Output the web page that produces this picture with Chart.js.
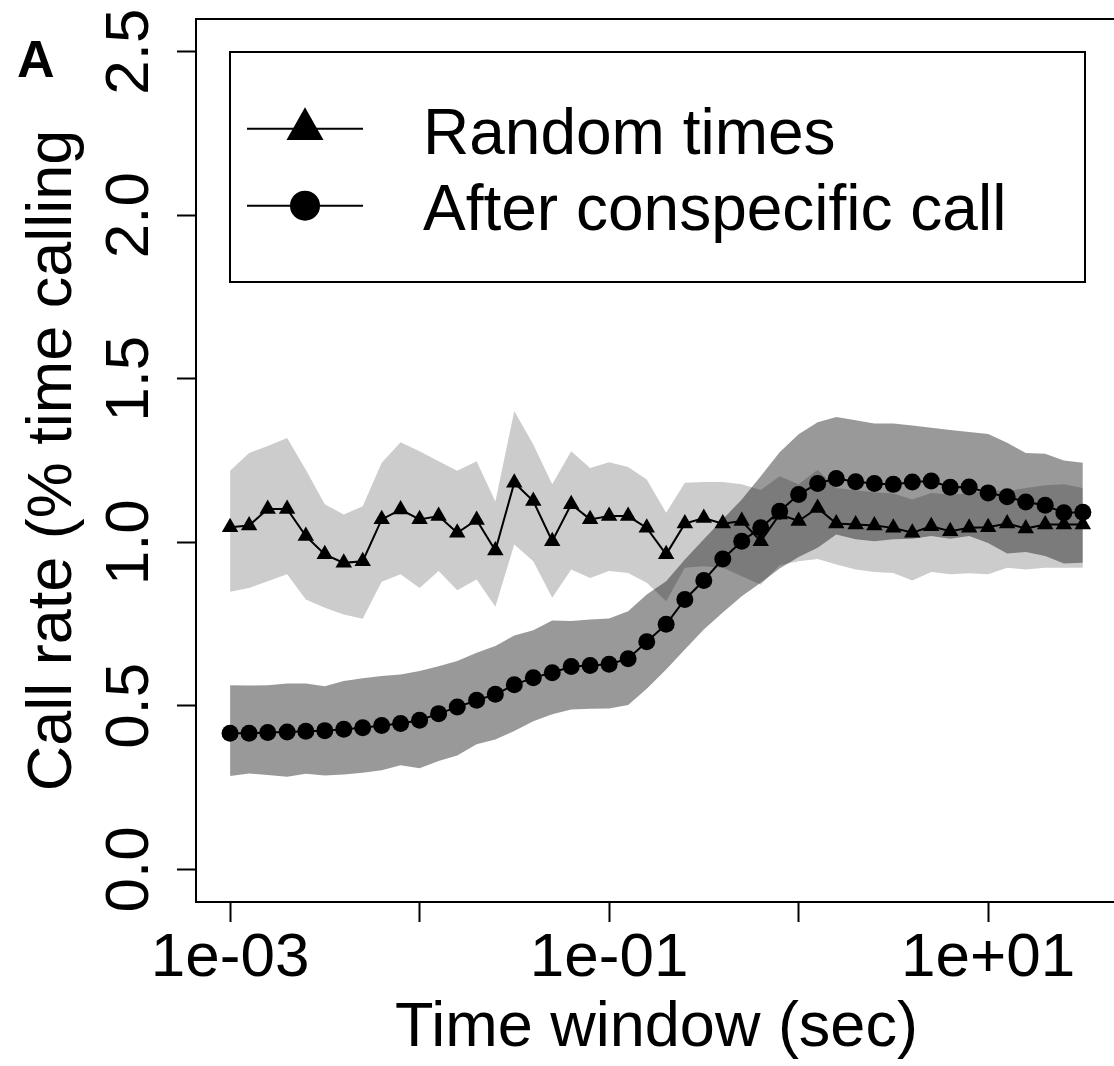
<!DOCTYPE html>
<html>
<head>
<meta charset="utf-8">
<script src="https://cdn.jsdelivr.net/npm/chart.js@4/dist/chart.umd.min.js"></script>
<style>
  html, body { margin: 0; padding: 0; background: #fff; overflow: hidden; }
  #wrap { position: relative; width: 1130px; height: 1066px; font-family: 'Liberation Sans', Arial, sans-serif; }
  #chart { display: block; }
  #panel { position: absolute; left: 17px; top: 33px; font-weight: bold; font-size: 52px; line-height: 52px; }
  #legend { position: absolute; left: 229px; top: 51px; width: 857px; height: 232px; border: 2px solid #000; box-sizing: border-box; background: #fff; }
  .leg-text { position: absolute; left: 423px; font-size: 64px; line-height: 64px; white-space: nowrap; }
  #legsym { position: absolute; left: 240px; top: 100px; }
</style>
</head>
<body>
<div id="wrap">
  <canvas id="chart" width="1130" height="1066"></canvas>
  <div id="panel">A</div>
  <div id="legend"></div>
  <svg id="legsym" width="130" height="130">
    <line x1="7" y1="28.7" x2="123" y2="28.7" stroke="#000" stroke-width="2"/>
    <polygon points="65,7.3 46.5,40 83.5,40" fill="#000"/>
    <line x1="7" y1="105.7" x2="123" y2="105.7" stroke="#000" stroke-width="2"/>
    <circle cx="65" cy="105.7" r="15" fill="#000"/>
  </svg>
  <div class="leg-text" style="top:100px">Random times</div>
  <div class="leg-text" style="top:176px">After conspecific call</div>
</div>
<script>
// time windows (sec), 10 per decade
const timeWindow = [
  0.001, 0.00126, 0.00158, 0.002, 0.00251, 0.00316, 0.00398, 0.00501, 0.00631, 0.00794,
  0.01, 0.0126, 0.0158, 0.02, 0.0251, 0.0316, 0.0398, 0.0501, 0.0631, 0.0794,
  0.1, 0.126, 0.158, 0.2, 0.251, 0.316, 0.398, 0.501, 0.631, 0.794,
  1, 1.26, 1.58, 2, 2.51, 3.16, 3.98, 5.01, 6.31, 7.94,
  10, 12.6, 15.8, 20, 25.1, 31.6
];

// random times
const randomMean = [
  1.046, 1.051, 1.102, 1.102, 1.019, 0.963, 0.937, 0.942, 1.070, 1.100,
  1.070, 1.080, 1.029, 1.068, 0.975, 1.182, 1.126, 1.003, 1.116, 1.070,
  1.080, 1.080, 1.044, 0.963, 1.057, 1.074, 1.057, 1.065, 1.003, 1.085,
  1.065, 1.105, 1.057, 1.054, 1.051, 1.044, 1.029, 1.049, 1.034, 1.044,
  1.046, 1.057, 1.042, 1.054, 1.054, 1.054
];
const randomUpper = [
  1.219, 1.273, 1.294, 1.319, 1.222, 1.116, 1.085, 1.110, 1.243, 1.306,
  1.278, 1.248, 1.219, 1.248, 1.125, 1.401, 1.299, 1.177, 1.278, 1.227,
  1.245, 1.230, 1.192, 1.090, 1.182, 1.184, 1.184, 1.177, 1.160, 1.202,
  1.177, 1.222, 1.166, 1.159, 1.153, 1.149, 1.131, 1.151, 1.146, 1.149,
  1.161, 1.156, 1.166, 1.174, 1.177, 1.166
];
const randomLower = [
  0.849, 0.860, 0.881, 0.902, 0.825, 0.800, 0.779, 0.766, 0.879, 0.902,
  0.860, 0.912, 0.853, 0.886, 0.803, 0.993, 0.942, 0.830, 0.917, 0.891,
  0.912, 0.906, 0.876, 0.820, 0.922, 0.927, 0.922, 0.896, 0.870, 0.930,
  0.942, 0.949, 0.932, 0.917, 0.909, 0.906, 0.883, 0.909, 0.902, 0.905,
  0.902, 0.922, 0.917, 0.922, 0.922, 0.922
];

// after conspecific call
const conspMean = [
  0.416, 0.416, 0.418, 0.420, 0.422, 0.424, 0.428, 0.433, 0.440, 0.446,
  0.456, 0.476, 0.496, 0.517, 0.535, 0.564, 0.586, 0.601, 0.620, 0.623,
  0.627, 0.644, 0.696, 0.749, 0.825, 0.883, 0.949, 1.003, 1.044, 1.095,
  1.146, 1.180, 1.195, 1.185, 1.180, 1.177, 1.184, 1.187, 1.168, 1.169,
  1.151, 1.139, 1.123, 1.113, 1.090, 1.092
];
const conspUpper = [
  0.563, 0.562, 0.563, 0.568, 0.568, 0.560, 0.576, 0.584, 0.591, 0.596,
  0.606, 0.621, 0.637, 0.662, 0.683, 0.715, 0.731, 0.761, 0.759, 0.764,
  0.767, 0.789, 0.840, 0.881, 0.947, 1.009, 1.070, 1.131, 1.202, 1.275,
  1.330, 1.367, 1.383, 1.373, 1.363, 1.363, 1.357, 1.350, 1.343, 1.337,
  1.331, 1.304, 1.273, 1.271, 1.250, 1.243
];
const conspLower = [
  0.285, 0.293, 0.288, 0.283, 0.292, 0.287, 0.290, 0.295, 0.303, 0.318,
  0.309, 0.331, 0.348, 0.382, 0.397, 0.423, 0.453, 0.474, 0.489, 0.491,
  0.492, 0.502, 0.552, 0.611, 0.672, 0.733, 0.785, 0.835, 0.876, 0.920,
  0.955, 0.983, 1.024, 1.009, 1.003, 1.009, 1.011, 1.019, 1.011, 1.019,
  0.998, 0.966, 0.970, 0.958, 0.935, 0.937
];

const xTickValues = [0.001, 0.01, 0.1, 1, 10];
const xTickLabels = ['1e-03', '', '1e-01', '', '1e+01'];
const yTickValues = [0, 0.5, 1, 1.5, 2, 2.5];
const yTickLabels = ['0.0', '0.5', '1.0', '1.5', '2.0', '2.5'];

// plot region edges in the reference (px); right edge falls just off the page
const plotLeft = 196, plotRight = 1117, plotTop = 19, plotBottom = 902;

function pts(arr) {
  return timeWindow.map((t, i) => ({ x: t, y: arr[i] }));
}

Chart.defaults.font.family = "'Liberation Sans', Arial, sans-serif";
Chart.defaults.color = '#000';

// full frame around the plot region
const boxPlugin = {
  id: 'box',
  afterDraw(chart) {
    const { ctx, chartArea: a } = chart;
    ctx.save();
    ctx.strokeStyle = '#000';
    ctx.lineWidth = 2;
    ctx.strokeRect(a.left, a.top, a.right - a.left, a.bottom - a.top);
    ctx.restore();
  }
};

const band = { pointRadius: 0, borderWidth: 0, showLine: true };

const chart = new Chart(document.getElementById('chart'), {
  type: 'line',
  data: {
    datasets: [
      { ...band, label: 'rl', data: pts(randomLower), fill: false },
      { ...band, label: 'ru', data: pts(randomUpper), fill: '-1', backgroundColor: 'rgba(0,0,0,0.2)' },
      { ...band, label: 'cl', data: pts(conspLower), fill: false },
      { ...band, label: 'cu', data: pts(conspUpper), fill: '-1', backgroundColor: 'rgba(0,0,0,0.4)' },
      {
        label: 'Random times', data: pts(randomMean), fill: false,
        borderColor: '#000', borderWidth: 2, pointStyle: 'triangle',
        pointRadius: 9.5, pointBackgroundColor: '#000', pointBorderWidth: 0
      },
      {
        label: 'After conspecific call', data: pts(conspMean), fill: false,
        borderColor: '#000', borderWidth: 2, pointStyle: 'circle',
        pointRadius: 8.5, pointBackgroundColor: '#000', pointBorderWidth: 0
      }
    ]
  },
  options: {
    responsive: false,
    animation: false,
    devicePixelRatio: 1,
    layout: { padding: { top: plotTop, right: 1130 - plotRight, left: 0, bottom: 0 } },
    elements: { line: { tension: 0 } },
    plugins: { legend: { display: false }, tooltip: { enabled: false } },
    scales: {
      x: {
        type: 'logarithmic',
        min: 0.000661,
        max: 47.86,
        afterBuildTicks: s => { s.ticks = xTickValues.map(v => ({ value: v })); },
        afterFit: s => { s.height = 1066 - plotBottom; s.paddingLeft = 0; s.paddingRight = 0; },
        ticks: {
          autoSkip: false, maxRotation: 0, minRotation: 0, padding: 0,
          font: { size: 62 },
          callback: (v, i) => xTickLabels[i]
        },
        grid: { drawOnChartArea: false, drawTicks: true, tickLength: 20, tickWidth: 2, tickColor: '#000' },
        border: { display: true, color: '#000', width: 2 },
        title: { display: true, text: 'Time window (sec)', font: { size: 63 }, padding: { top: 0, bottom: 0 } }
      },
      y: {
        type: 'linear',
        min: -0.1,
        max: 2.6,
        afterBuildTicks: s => { s.ticks = yTickValues.map(v => ({ value: v })); },
        afterFit: s => { s.width = plotLeft; s.paddingTop = 0; s.paddingBottom = 0; },
        ticks: {
          autoSkip: false, minRotation: 90, maxRotation: 90, crossAlign: 'center', padding: 3,
          font: { size: 62 },
          callback: (v, i) => yTickLabels[i]
        },
        grid: { drawOnChartArea: false, drawTicks: true, tickLength: 19, tickWidth: 2, tickColor: '#000' },
        border: { display: true, color: '#000', width: 2 },
        title: { display: true, text: 'Call rate (% time calling', font: { size: 63 }, padding: { top: 16, bottom: 0 } }
      }
    }
  },
  plugins: [boxPlugin]
});

// nudge the layout so the plot region lands on the reference edges
const a = chart.chartArea;
const dr = a.right - plotRight, dt = plotTop - a.top, db = a.bottom - plotBottom;
if (dr || dt || db) {
  chart.options.layout.padding = {
    top: plotTop + dt,
    right: 1130 - plotRight + dr,
    left: 0,
    bottom: Math.max(0, db)
  };
  chart.update();
}
</script>
</body>
</html>
